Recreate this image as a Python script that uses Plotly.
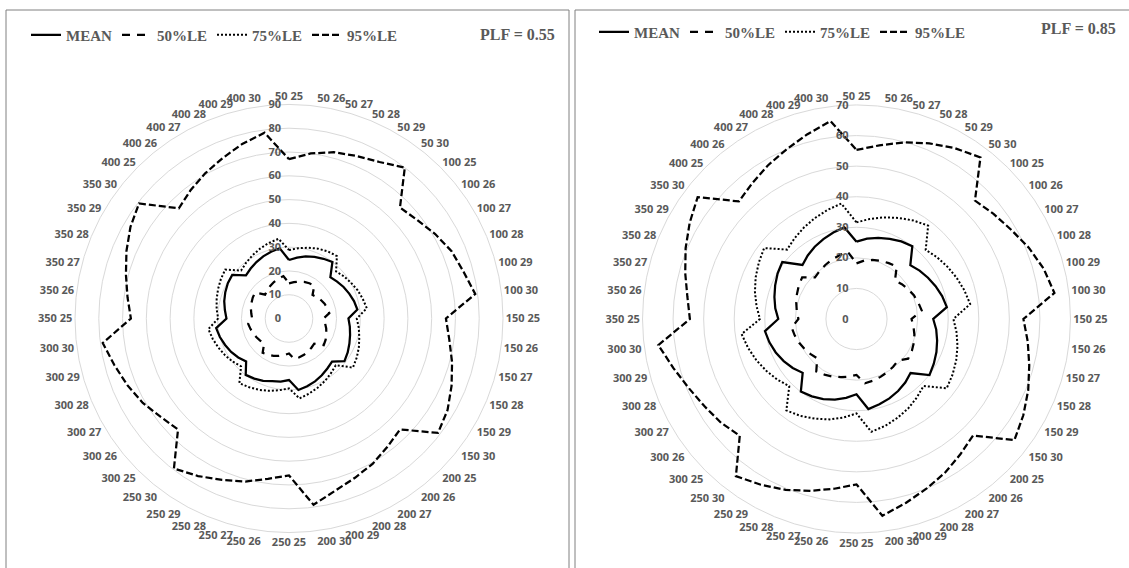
import plotly.graph_objects as go

# ---------------- data ----------------
GROUPS = [50, 100, 150, 200, 250, 300, 350, 400]
TEMPS = [25, 26, 27, 28, 29, 30]
CATEGORIES = [f"{g} {t}" for g in GROUPS for t in TEMPS]

SERIES_NAMES = ["MEAN", "50%LE", "75%LE", "95%LE"]

# PLF = 0.55 (left panel)
mean_055 = [24.6, 25.8, 27.0, 28.0, 29.0, 30.0,
            24.6, 25.5, 26.5, 27.4, 28.3, 29.0,
            25.0, 25.8, 26.6, 27.5, 28.5, 29.4,
            25.6, 26.5, 27.6, 28.6, 29.5, 30.3,
            25.9, 26.8, 27.3, 28.4, 29.2, 29.9,
            25.5, 26.9, 28.1, 29.1, 30.1, 30.9,
            26.3, 27.2, 28.2, 29.0, 29.7, 30.1,
            25.6, 26.5, 27.4, 28.3, 29.1, 29.8]
le50_055 = [14.8, 15.4, 16.1, 16.7, 17.1, 17.5,
            14.0, 14.8, 15.5, 16.2, 16.7, 17.1,
            14.5, 15.3, 16.2, 17.0, 17.8, 18.4,
            15.0, 15.5, 16.0, 16.5, 16.9, 17.2,
            14.7, 15.5, 16.3, 17.0, 17.6, 18.2,
            14.8, 15.3, 15.8, 16.3, 16.8, 17.3,
            15.5, 16.0, 16.6, 17.1, 17.6, 18.0,
            14.2, 15.0, 15.8, 16.6, 17.3, 18.0]
le75_055 = [28.8, 29.8, 30.8, 31.8, 32.6, 33.1,
            28.0, 29.1, 30.1, 31.2, 32.1, 33.0,
            28.5, 29.6, 30.6, 31.8, 32.9, 33.9,
            27.8, 29.0, 30.3, 31.5, 32.7, 33.9,
            29.4, 30.4, 31.5, 32.5, 33.4, 34.3,
            28.5, 29.8, 31.0, 32.1, 33.2, 34.2,
            29.8, 30.7, 31.5, 32.3, 33.1, 33.8,
            28.5, 29.6, 30.7, 31.8, 32.9, 33.8]
le95_055 = [67.0, 70.0, 72.4, 74.0, 76.0, 80.0,
            66.0, 68.0, 71.0, 74.0, 76.0, 79.0,
            66.0, 68.0, 71.0, 74.0, 77.0, 79.0,
            66.0, 68.0, 70.5, 72.5, 75.0, 79.0,
            66.0, 68.0, 71.0, 73.5, 76.5, 79.5,
            66.0, 68.0, 71.0, 73.5, 76.0, 79.0,
            66.5, 68.5, 71.0, 74.0, 77.0, 79.5,
            65.5, 68.0, 70.5, 73.0, 76.0, 78.8]

# PLF = 0.85 (right panel)
mean_085 = [25.3, 26.5, 27.5, 28.4, 29.3, 30.0,
            24.9, 26.0, 27.0, 28.0, 29.0, 29.8,
            25.1, 26.3, 27.3, 28.3, 29.2, 30.1,
            25.0, 26.2, 27.2, 28.1, 28.9, 29.7,
            24.6, 26.0, 27.3, 28.4, 29.2, 29.9,
            24.9, 26.3, 27.5, 28.6, 29.5, 30.2,
            25.6, 26.8, 27.8, 28.8, 29.8, 30.6,
            25.0, 26.2, 27.3, 28.3, 29.3, 30.2]
le50_085 = [18.2, 19.3, 20.0, 20.6, 21.1, 21.6,
            17.8, 18.7, 19.5, 20.3, 20.9, 21.5,
            18.0, 18.8, 19.6, 20.3, 20.9, 21.3,
            19.2, 19.7, 20.1, 20.5, 20.9, 21.2,
            18.3, 19.0, 19.7, 20.4, 21.0, 21.6,
            18.2, 18.9, 19.6, 20.3, 20.9, 21.4,
            19.0, 19.7, 20.4, 21.1, 21.8, 22.4,
            19.2, 19.8, 20.4, 21.0, 21.6, 22.2]
le75_085 = [31.6, 33.0, 34.4, 35.8, 37.2, 38.5,
            32.0, 33.2, 34.3, 35.4, 36.5, 37.5,
            31.7, 33.0, 34.2, 35.3, 36.3, 37.2,
            31.0, 32.4, 33.8, 35.0, 36.2, 37.2,
            30.9, 32.5, 34.0, 35.3, 36.6, 37.7,
            31.1, 32.6, 34.0, 35.4, 36.7, 37.9,
            31.6, 33.0, 34.4, 35.7, 36.9, 38.1,
            32.1, 33.3, 34.5, 35.7, 36.9, 38.1]
le95_085 = [55.3, 57.3, 59.8, 62.2, 64.5, 66.6,
            54.8, 56.5, 58.4, 61.0, 63.4, 65.3,
            54.6, 56.5, 58.5, 60.8, 63.0, 65.1,
            53.9, 55.8, 58.0, 60.0, 62.3, 64.9,
            54.1, 56.0, 58.2, 60.5, 62.6, 64.8,
            54.0, 55.8, 57.3, 59.3, 62.0, 65.4,
            54.5, 55.8, 58.0, 60.5, 63.0, 65.5,
            54.4, 56.0, 58.0, 60.0, 62.5, 65.3]

# ---------------- styling ----------------
W, H = 1129, 568
LINE_STYLES = {
    "MEAN": dict(dash="solid", width=2.25),
    "50%LE": dict(dash="8px,7px", width=2.25),
    "75%LE": dict(dash="2px,2px", width=2),
    "95%LE": dict(dash="7px,3px", width=2.25),
}
LABEL_FONT = dict(family="Open Sans", size=11, color="#595959", weight="bold")
LEGEND_FONT = dict(family="Liberation Serif", size=15, color="#595959", weight="bold")
GRID = "#d9d9d9"

panels = [
    dict(polar="polar", legend="legend", plf="0.55", rmax=90,
         data=[mean_055, le50_055, le75_055, le95_055], center=(289, 318.5)),
    dict(polar="polar2", legend="legend2", plf="0.85", rmax=70,
         data=[mean_085, le50_085, le75_085, le95_085], center=(856.5, 319)),
]
R_PX = 214

fig = go.Figure()
layout = {}
for p in panels:
    for name, vals in zip(SERIES_NAMES, p["data"]):
        st = LINE_STYLES[name]
        fig.add_trace(go.Scatterpolar(
            r=vals + vals[:1], theta=CATEGORIES + CATEGORIES[:1],
            mode="lines", name=name, subplot=p["polar"], legend=p["legend"],
            line=dict(color="black", width=st["width"], dash=st["dash"]),
        ))
    cx, cy = p["center"]
    layout[p["polar"]] = dict(
        domain=dict(x=[(cx - R_PX) / W, (cx + R_PX) / W],
                    y=[(H - cy - R_PX) / H, (H - cy + R_PX) / H]),
        bgcolor="white",
        angularaxis=dict(rotation=90, direction="clockwise", showgrid=False,
                         showline=True, linecolor=GRID, linewidth=1, ticks="",
                         tickfont=LABEL_FONT),
        radialaxis=dict(range=[0, p["rmax"]], dtick=10, angle=90, tickangle=90,
                        side="counterclockwise", showline=False, ticks="",
                        ticksuffix="\u00a0\u00a0",
                        gridcolor=GRID, tickfont=LABEL_FONT),
    )

layout["legend"] = dict(orientation="h", x=26 / W, xanchor="left", y=1 - 35 / H,
                        yanchor="middle", font=LEGEND_FONT, bgcolor="rgba(0,0,0,0)",
                        itemwidth=30)
layout["legend2"] = dict(orientation="h", x=594 / W, xanchor="left", y=1 - 32 / H,
                         yanchor="middle", font=LEGEND_FONT, bgcolor="rgba(0,0,0,0)",
                         itemwidth=30)

fig.update_layout(
    width=W, height=H, margin=dict(l=0, r=0, t=0, b=0),
    paper_bgcolor="white", plot_bgcolor="white",
    **layout,
    annotations=[
        dict(text="PLF = 0.55", x=557 / W, y=1 - 34 / H, xref="paper", yref="paper",
             xanchor="right", yanchor="middle", showarrow=False,
             font=dict(family="Liberation Serif", size=16, color="#595959", weight="bold")),
        dict(text="PLF = 0.85", x=1118 / W, y=1 - 29 / H, xref="paper", yref="paper",
             xanchor="right", yanchor="middle", showarrow=False,
             font=dict(family="Liberation Serif", size=16, color="#595959", weight="bold")),
    ],
    shapes=[
        dict(type="rect", xref="paper", yref="paper", x0=6 / W, x1=569 / W,
             y0=-0.05, y1=1 - 10 / H, line=dict(color="#808080", width=1)),
        dict(type="rect", xref="paper", yref="paper", x0=575 / W, x1=1.05,
             y0=-0.05, y1=1 - 10 / H, line=dict(color="#808080", width=1)),
    ],
)

fig.write_html("out.html", config={"displayModeBar": False},
               post_script="document.body.style.margin='0px';document.body.style.overflow='hidden';")
